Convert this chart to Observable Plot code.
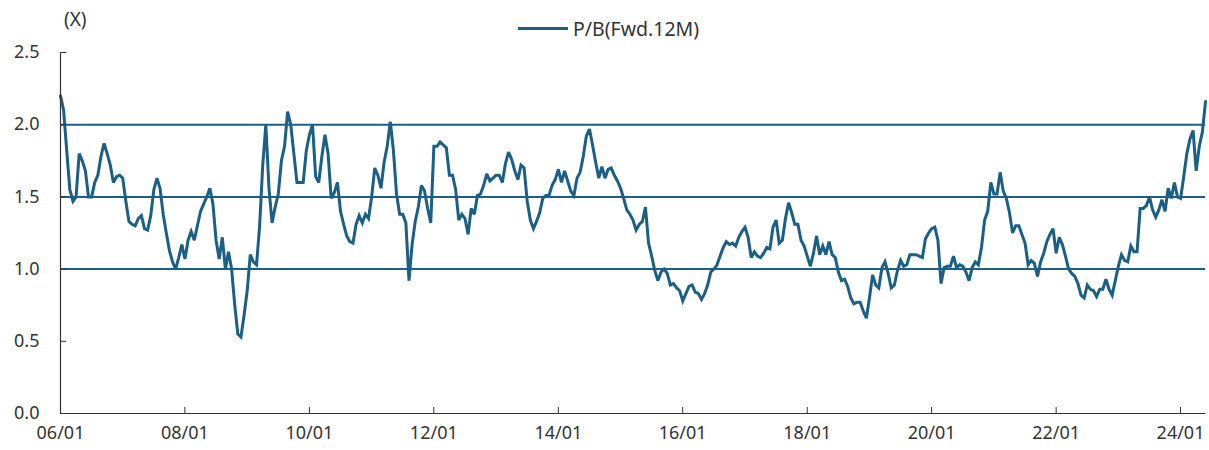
<!DOCTYPE html>
<html>
<head>
<meta charset="utf-8">
<script src="https://cdn.jsdelivr.net/npm/d3@7"></script>
<script src="https://cdn.jsdelivr.net/npm/@observablehq/plot@0.6"></script>
<style>
  html, body { margin: 0; padding: 0; background: #fff; }
  #wrap { position: relative; width: 1209px; height: 450px; font-family: 'Noto Sans', sans-serif; color: #333; }
  #unit { position: absolute; left: 64px; top: 6px; font-size: 19px; }
  #legend { position: absolute; left: 518px; top: 15px; display: flex; align-items: center; font-size: 19.5px; }
  #legend .sw { width: 50px; height: 0; border-top: 3px solid #1a5f86; margin-right: 5px; }
</style>
</head>
<body>
<div id="wrap">
  <div id="unit">(X)</div>
  <div id="legend"><span class="sw"></span><span>P/B(Fwd.12M)</span></div>
</div>
<script>
// Series: P/B (Fwd.12M), sampled every 0.05 year starting Jan 2006
const seriesName = "P/B(Fwd.12M)";
const startYear = 2006;
const stepYears = 0.05;
const values = [
  2.2, 2.1, 1.82, 1.55, 1.47, 1.5, 1.8, 1.75, 1.68, 1.5,
  1.5, 1.6, 1.65, 1.78, 1.87, 1.8, 1.72, 1.6, 1.64, 1.65,
  1.63, 1.47, 1.33, 1.31, 1.3, 1.35, 1.37, 1.28, 1.27, 1.37,
  1.55, 1.63, 1.56, 1.38, 1.25, 1.13, 1.05, 1.0, 1.08, 1.17,
  1.07, 1.2, 1.26, 1.2, 1.3, 1.4, 1.45, 1.5, 1.56, 1.45,
  1.2, 1.07, 1.22, 1.0, 1.12, 1.0, 0.75, 0.55, 0.53, 0.68,
  0.85, 1.1, 1.05,
  1.03, 1.3, 1.72, 2.0, 1.56, 1.32, 1.43, 1.52, 1.75, 1.85,
  2.09, 2.0, 1.8, 1.6, 1.6, 1.6, 1.82, 1.93, 2.0, 1.64,
  1.6, 1.78, 1.93, 1.8, 1.49, 1.53, 1.6, 1.4, 1.31, 1.23,
  1.19, 1.18, 1.31, 1.37, 1.32, 1.38, 1.35, 1.5, 1.7, 1.65,
  1.56, 1.74, 1.85, 2.02, 1.82, 1.52, 1.38, 1.38, 1.32, 0.92,
  1.17, 1.33, 1.43, 1.58, 1.54, 1.42, 1.32, 1.85, 1.85, 1.88,
  1.86, 1.84, 1.65,
  1.65, 1.55, 1.34, 1.38, 1.35, 1.24, 1.42, 1.38, 1.51, 1.52,
  1.58, 1.66, 1.61, 1.63, 1.65, 1.65, 1.6, 1.73, 1.81, 1.76,
  1.68, 1.62, 1.72, 1.70, 1.47, 1.34, 1.28, 1.33, 1.39, 1.49,
  1.51, 1.51, 1.58, 1.62, 1.69, 1.6, 1.68, 1.61, 1.54, 1.51,
  1.63, 1.67, 1.78, 1.92, 1.97, 1.86, 1.74, 1.63, 1.71, 1.63,
  1.69, 1.70, 1.65, 1.61, 1.56, 1.49, 1.41, 1.38, 1.34, 1.27,
  1.31, 1.33, 1.43,
  1.18, 1.09, 0.99, 0.92, 0.98, 1.0, 0.97, 0.89, 0.9, 0.87,
  0.85, 0.78, 0.83, 0.88, 0.89, 0.84, 0.83, 0.79, 0.83, 0.89,
  0.98, 1.0, 1.03, 1.09, 1.15, 1.19, 1.17, 1.18, 1.16, 1.22,
  1.26, 1.29, 1.22, 1.08, 1.12, 1.09, 1.08, 1.11, 1.15, 1.14,
  1.29, 1.34, 1.18, 1.2, 1.35, 1.46, 1.39, 1.31, 1.31, 1.2,
  1.16, 1.09, 1.02, 1.11, 1.23, 1.10, 1.16, 1.10, 1.19, 1.1,
  1.08, 0.98,
  0.92, 0.93, 0.88, 0.8, 0.76, 0.77, 0.77, 0.71, 0.66, 0.8,
  0.96, 0.89, 0.87, 1.01, 1.05, 0.97, 0.87, 0.89, 0.99, 1.06,
  1.02, 1.03, 1.10, 1.10, 1.10, 1.09, 1.08, 1.21, 1.25, 1.28,
  1.29, 1.2, 0.9, 1.01, 1.02, 1.02, 1.09, 1.01, 1.03, 1.02,
  0.98, 0.92, 1.01, 1.05, 1.03, 1.15, 1.34, 1.40, 1.6, 1.52,
  1.52, 1.67, 1.54, 1.49, 1.39, 1.25, 1.3, 1.30, 1.24, 1.18,
  1.03, 1.06, 1.04,
  0.95, 1.05, 1.11, 1.19, 1.24, 1.28, 1.11, 1.22, 1.17, 1.09,
  1.0, 0.97, 0.95, 0.9, 0.82, 0.8, 0.89, 0.86, 0.85, 0.81,
  0.86, 0.86, 0.93, 0.86, 0.82, 0.92, 1.02, 1.10, 1.06, 1.05,
  1.16, 1.12, 1.12, 1.42, 1.42, 1.44, 1.50, 1.41, 1.36, 1.41,
  1.48, 1.40, 1.56, 1.49, 1.60, 1.50, 1.49, 1.64, 1.80, 1.90,
  1.96, 1.68, 1.85, 1.95, 2.16
];
const yTicks = [0, 0.5, 1.0, 1.5, 2.0, 2.5];
const refLevels = [1.0, 1.5, 2.0];
const xTickYears = [2006, 2008, 2010, 2012, 2014, 2016, 2018, 2020, 2022, 2024];

const lineColor = "#1a5f86";
const axisColor = "#333";

const yearToDate = (y) => new Date(Date.UTC(2006, 0, 1) + (y - 2006) * 365.25 * 864e5);
const data = values.map((v, i) => ({ date: yearToDate(startYear + i * stepYears), value: v }));
const xTicks = xTickYears.map(y => new Date(Date.UTC(y, 0, 1)));
const x0 = new Date(Date.UTC(startYear, 0, 1));
const x1 = data[data.length - 1].date;

const W = 1209, H = 450, mt = 52, mb = 37, ml = 60, mr = 4;
const fmt = d3.utcFormat("%y/%m");

const chart = Plot.plot({
  width: W, height: H,
  marginTop: mt, marginBottom: mb, marginLeft: ml, marginRight: mr,
  style: { fontFamily: "'Noto Sans', sans-serif", fontSize: "18px", color: axisColor, background: "#fff" },
  x: { type: "utc", domain: [x0, x1] },
  y: { domain: [0, 2.5] },
  marks: [
    Plot.ruleY(refLevels, { stroke: lineColor, strokeWidth: 2 }),
    Plot.line(data, { x: "date", y: "value", stroke: lineColor, strokeWidth: 3, strokeLinejoin: "miter", strokeMiterlimit: 3 }),
    Plot.ruleX([x0], { stroke: axisColor, strokeWidth: 1.2 }),
    Plot.ruleY([0], { stroke: axisColor, strokeWidth: 1.2 }),
    Plot.ruleX(xTicks, { stroke: axisColor, insetTop: (H - mt - mb) - 6 }),
    Plot.ruleY(yTicks, { stroke: axisColor, insetRight: (W - ml - mr) - 6 }),
    Plot.axisX({ ticks: xTicks, tickFormat: fmt, tickSize: 0, tickPadding: 13, label: null }),
    Plot.axisY({ ticks: yTicks, tickFormat: d3.format(".1f"), tickSize: 0, tickPadding: 21, label: null })
  ]
});
document.getElementById("wrap").appendChild(chart);
chart.style.position = "absolute";
chart.style.left = "0";
chart.style.top = "0";
document.getElementById("wrap").appendChild(document.getElementById("unit"));
document.getElementById("wrap").appendChild(document.getElementById("legend"));
</script>
</body>
</html>
